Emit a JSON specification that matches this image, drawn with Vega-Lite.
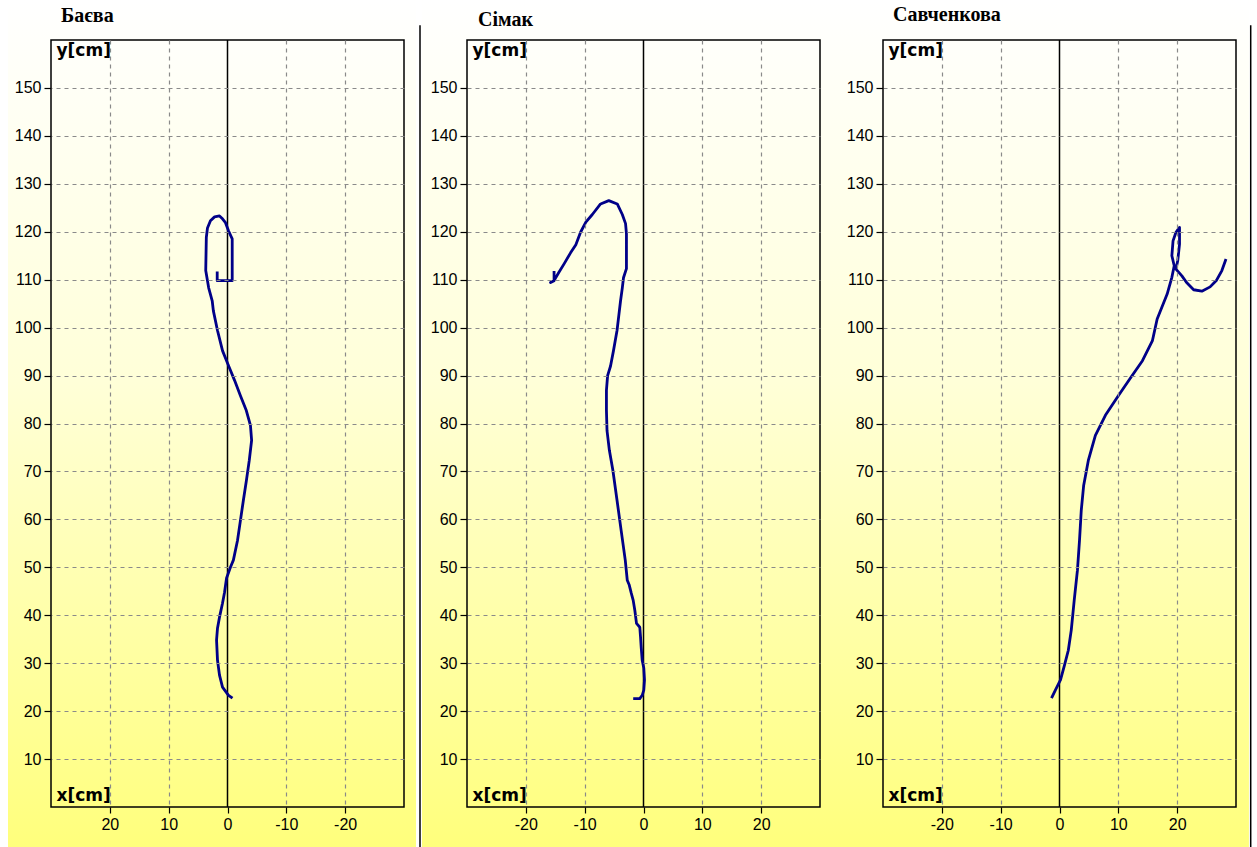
{
  "$schema": "https://vega.github.io/schema/vega-lite/v6.json",
  "background": "white",
  "padding": {"left": 7, "top": 0, "right": 0, "bottom": 0},
  "autosize": {"type": "pad"},
  "bounds": "flush",
  "spacing": 63,
  "datasets": {
    "baeva": [
      {"i": 1, "x": -0.85, "y": 22.7}, {"i": 2, "x": -0.17, "y": 23.3}, {"i": 3, "x": 0.85, "y": 25.0},
      {"i": 4, "x": 1.36, "y": 27.5}, {"i": 5, "x": 1.7, "y": 30.6}, {"i": 6, "x": 1.86, "y": 34.8},
      {"i": 7, "x": 1.7, "y": 37.3}, {"i": 8, "x": 1.36, "y": 39.6}, {"i": 9, "x": 0.85, "y": 42.5},
      {"i": 10, "x": 0.5, "y": 44.8}, {"i": 11, "x": 0.17, "y": 47.7}, {"i": 12, "x": -0.5, "y": 50.0},
      {"i": 13, "x": -1.0, "y": 51.5}, {"i": 14, "x": -1.7, "y": 55.6}, {"i": 15, "x": -2.2, "y": 59.8},
      {"i": 16, "x": -2.7, "y": 64.0}, {"i": 17, "x": -3.2, "y": 68.0}, {"i": 18, "x": -3.7, "y": 72.3},
      {"i": 19, "x": -4.1, "y": 76.5}, {"i": 20, "x": -3.9, "y": 79.6}, {"i": 21, "x": -3.2, "y": 82.7},
      {"i": 22, "x": -2.2, "y": 85.8}, {"i": 23, "x": -1.2, "y": 89.0}, {"i": 24, "x": -0.2, "y": 92.0},
      {"i": 25, "x": 0.85, "y": 95.2}, {"i": 26, "x": 1.7, "y": 99.4}, {"i": 27, "x": 2.4, "y": 103.5},
      {"i": 28, "x": 2.6, "y": 105.6}, {"i": 29, "x": 3.2, "y": 108.3}, {"i": 30, "x": 3.7, "y": 111.9},
      {"i": 31, "x": 3.6, "y": 118.8}, {"i": 32, "x": 3.4, "y": 120.8}, {"i": 33, "x": 2.9, "y": 122.3},
      {"i": 34, "x": 2.2, "y": 123.1}, {"i": 35, "x": 1.36, "y": 123.3}, {"i": 36, "x": 0.85, "y": 122.7},
      {"i": 37, "x": 0.34, "y": 121.9}, {"i": 38, "x": -0.17, "y": 120.2}, {"i": 39, "x": -0.8, "y": 118.5},
      {"i": 40, "x": -0.8, "y": 114.0}, {"i": 41, "x": -0.8, "y": 109.8}, {"i": 42, "x": 0.34, "y": 109.8},
      {"i": 43, "x": 1.75, "y": 109.8}, {"i": 44, "x": 1.75, "y": 111.7}
    ],
    "simak": [
      {"i": 1, "x": -1.75, "y": 22.6}, {"i": 2, "x": -0.63, "y": 22.6}, {"i": 3, "x": -0.22, "y": 23.3},
      {"i": 4, "x": 0.05, "y": 24.4}, {"i": 5, "x": 0.17, "y": 26.5}, {"i": 6, "x": 0.05, "y": 29.0},
      {"i": 7, "x": -0.22, "y": 30.6}, {"i": 8, "x": -0.39, "y": 33.3}, {"i": 9, "x": -0.5, "y": 35.4},
      {"i": 10, "x": -0.63, "y": 37.5}, {"i": 11, "x": -1.19, "y": 38.3}, {"i": 12, "x": -1.47, "y": 41.0},
      {"i": 13, "x": -1.75, "y": 43.1}, {"i": 14, "x": -2.08, "y": 44.6}, {"i": 15, "x": -2.42, "y": 46.3},
      {"i": 16, "x": -2.76, "y": 47.3}, {"i": 17, "x": -3.1, "y": 51.5}, {"i": 18, "x": -3.8, "y": 57.7},
      {"i": 19, "x": -4.5, "y": 64.0}, {"i": 20, "x": -5.2, "y": 70.2}, {"i": 21, "x": -5.8, "y": 74.4},
      {"i": 22, "x": -6.2, "y": 78.5}, {"i": 23, "x": -6.3, "y": 82.7}, {"i": 24, "x": -6.3, "y": 86.9},
      {"i": 25, "x": -6.1, "y": 90.0}, {"i": 26, "x": -5.6, "y": 92.0}, {"i": 27, "x": -5.1, "y": 95.2},
      {"i": 28, "x": -4.5, "y": 99.4}, {"i": 29, "x": -4.2, "y": 102.5}, {"i": 30, "x": -3.9, "y": 105.6},
      {"i": 31, "x": -3.6, "y": 108.3}, {"i": 32, "x": -3.4, "y": 110.4}, {"i": 33, "x": -2.9, "y": 112.3},
      {"i": 34, "x": -2.9, "y": 116.7}, {"i": 35, "x": -2.9, "y": 119.6}, {"i": 36, "x": -3.05, "y": 121.7},
      {"i": 37, "x": -3.6, "y": 123.6}, {"i": 38, "x": -4.46, "y": 125.8}, {"i": 39, "x": -5.9, "y": 126.5},
      {"i": 40, "x": -7.3, "y": 125.8}, {"i": 41, "x": -8.7, "y": 123.6}, {"i": 42, "x": -9.8, "y": 122.0},
      {"i": 43, "x": -10.7, "y": 119.9}, {"i": 44, "x": -11.5, "y": 117.3}, {"i": 45, "x": -12.4, "y": 115.6},
      {"i": 46, "x": -13.5, "y": 113.3}, {"i": 47, "x": -14.4, "y": 111.5}, {"i": 48, "x": -15.2, "y": 109.8},
      {"i": 49, "x": -15.8, "y": 109.4}, {"i": 50, "x": -15.2, "y": 109.8}, {"i": 51, "x": -15.2, "y": 111.8}
    ],
    "savchenkova": [
      {"i": 1, "x": -1.36, "y": 22.7}, {"i": 2, "x": -0.7, "y": 24.4}, {"i": 3, "x": 0.17, "y": 26.5},
      {"i": 4, "x": 0.85, "y": 29.6}, {"i": 5, "x": 1.5, "y": 32.7}, {"i": 6, "x": 2.0, "y": 36.9},
      {"i": 7, "x": 2.5, "y": 43.1}, {"i": 8, "x": 3.05, "y": 49.4}, {"i": 9, "x": 3.4, "y": 55.6},
      {"i": 10, "x": 3.7, "y": 61.9}, {"i": 11, "x": 4.1, "y": 67.0}, {"i": 12, "x": 4.9, "y": 72.3},
      {"i": 13, "x": 6.1, "y": 77.5}, {"i": 14, "x": 7.8, "y": 81.7}, {"i": 15, "x": 10.0, "y": 85.8},
      {"i": 16, "x": 12.0, "y": 89.4}, {"i": 17, "x": 14.1, "y": 93.1}, {"i": 18, "x": 15.8, "y": 97.3},
      {"i": 19, "x": 16.6, "y": 101.8}, {"i": 20, "x": 18.3, "y": 107.0}, {"i": 21, "x": 19.1, "y": 110.5},
      {"i": 22, "x": 19.5, "y": 112.9}, {"i": 23, "x": 19.1, "y": 115.0}, {"i": 24, "x": 19.3, "y": 118.1},
      {"i": 25, "x": 19.8, "y": 119.9}, {"i": 26, "x": 20.4, "y": 120.9}, {"i": 27, "x": 20.4, "y": 117.4},
      {"i": 28, "x": 20.1, "y": 114.0}, {"i": 29, "x": 19.8, "y": 112.2}, {"i": 30, "x": 20.8, "y": 110.8},
      {"i": 31, "x": 21.6, "y": 109.4}, {"i": 32, "x": 22.8, "y": 107.9}, {"i": 33, "x": 24.2, "y": 107.6},
      {"i": 34, "x": 25.6, "y": 108.5}, {"i": 35, "x": 26.7, "y": 109.9}, {"i": 36, "x": 27.6, "y": 111.9},
      {"i": 37, "x": 28.3, "y": 114.3}
    ]
  },
  "config": {
    "view": {"stroke": null},
    "axis": {
      "grid": true,
      "gridColor": "#8a8a8a",
      "gridDash": [4, 4],
      "gridWidth": 1.2,
      "domain": false,
      "tickColor": "black",
      "tickWidth": 1.2,
      "labelFont": "Liberation Sans",
      "labelFontSize": 16,
      "labelColor": "black",
      "titleFont": "DejaVu Sans",
      "titleFontWeight": "bold",
      "titleFontSize": 17,
      "titleColor": "black"
    }
  },
  "hconcat": [
    {
      "width": 353,
      "height": 767,
      "layer": [
        {
          "data": {"values": [{}]},
          "mark": {"type": "rect", "clip": false, "color": {"gradient": "linear", "x1": 0, "y1": 0, "x2": 0, "y2": 1, "stops": [{"offset": 0, "color": "#ffffff"}, {"offset": 0.45, "color": "#ffffd8"}, {"offset": 1, "color": "#ffff7c"}]}},
          "encoding": {
            "x": {"datum": 37.31, "type": "quantitative", "scale": {"domain": [-30, 30], "reverse": true, "nice": false, "zero": false},
              "axis": {"zindex": 1, "values": [-20, -10, 0, 10, 20], "title": "x[cm]", "titleX": 5, "titleY": -3, "titleAlign": "left", "titleBaseline": "bottom", "labelExpr": "'' + datum.value", "tickSize": 6, "labelPadding": 3, "gridOpacity": {"condition": {"test": "datum.value === 0", "value": 0}, "value": 1}}},
            "x2": {"datum": -32.04},
            "y": {"datum": 168.34, "type": "quantitative", "scale": {"domain": [0, 160], "nice": false, "zero": false},
              "axis": {"zindex": 1, "values": [10, 20, 30, 40, 50, 60, 70, 80, 90, 100, 110, 120, 130, 140, 150], "title": "y[cm]", "titleAngle": 0, "titleX": 5, "titleY": 2, "titleAlign": "left", "titleBaseline": "top", "tickSize": 7, "labelPadding": 3}},
            "y2": {"datum": -8.34}
          }
        },
        {
          "data": {"values": [{}]},
          "mark": {"type": "rect", "fillOpacity": 0, "stroke": "black", "strokeWidth": 1.5},
          "encoding": {
            "x": {"datum": -30, "type": "quantitative", "scale": {"domain": [-30, 30], "reverse": true, "nice": false, "zero": false}},
            "x2": {"datum": 30},
            "y": {"datum": 0, "type": "quantitative", "scale": {"domain": [0, 160], "nice": false, "zero": false}},
            "y2": {"datum": 160}
          }
        },
        {
          "data": {"values": [{}]},
          "mark": {"type": "rule", "color": "black", "strokeWidth": 1.5},
          "encoding": {
            "x": {"datum": 0, "type": "quantitative", "scale": {"domain": [-30, 30], "reverse": true, "nice": false, "zero": false}}
          }
        },
        {
          "data": {"values": [{}]},
          "mark": {"type": "rule", "color": "black", "strokeWidth": 1.5, "clip": false},
          "encoding": {
            "x": {"datum": -32.72, "type": "quantitative", "scale": {"domain": [-30, 30], "reverse": true, "nice": false, "zero": false}},
            "y": {"datum": 163.1, "type": "quantitative", "scale": {"domain": [0, 160], "nice": false, "zero": false}},
            "y2": {"datum": -8.34}
          }
        },
        {
          "data": {"values": [{}]},
          "mark": {"type": "text", "text": "Баєва", "font": "Liberation Serif", "fontWeight": "bold", "fontSize": 20, "align": "left", "baseline": "alphabetic", "color": "black", "clip": false},
          "encoding": {
            "x": {"datum": 28.3, "type": "quantitative", "scale": {"domain": [-30, 30], "reverse": true, "nice": false, "zero": false}},
            "y": {"datum": 163.75, "type": "quantitative", "scale": {"domain": [0, 160], "nice": false, "zero": false}}
          }
        },
        {
          "data": {"name": "baeva"},
          "mark": {"type": "line", "color": "#000088", "strokeWidth": 2.8, "strokeJoin": "round"},
          "encoding": {
            "x": {"field": "x", "type": "quantitative", "scale": {"domain": [-30, 30], "reverse": true, "nice": false, "zero": false}},
            "y": {"field": "y", "type": "quantitative", "scale": {"domain": [0, 160], "nice": false, "zero": false}},
            "order": {"field": "i", "type": "quantitative"}
          }
        }
      ]
    },
    {
      "width": 353,
      "height": 767,
      "layer": [
        {
          "data": {"values": [{}]},
          "mark": {"type": "rect", "clip": false, "color": {"gradient": "linear", "x1": 0, "y1": 0, "x2": 0, "y2": 1, "stops": [{"offset": 0, "color": "#ffffff"}, {"offset": 0.45, "color": "#ffffd8"}, {"offset": 1, "color": "#ffff7c"}]}},
          "encoding": {
            "x": {"datum": -37.65, "type": "quantitative", "scale": {"domain": [-30, 30], "nice": false, "zero": false},
              "axis": {"zindex": 1, "values": [-20, -10, 0, 10, 20], "title": "x[cm]", "titleX": 5, "titleY": -3, "titleAlign": "left", "titleBaseline": "bottom", "labelExpr": "'' + datum.value", "tickSize": 6, "labelPadding": 3, "gridOpacity": {"condition": {"test": "datum.value === 0", "value": 0}, "value": 1}}},
            "x2": {"datum": 33.57},
            "y": {"datum": 168.34, "type": "quantitative", "scale": {"domain": [0, 160], "nice": false, "zero": false},
              "axis": {"zindex": 1, "values": [10, 20, 30, 40, 50, 60, 70, 80, 90, 100, 110, 120, 130, 140, 150], "title": "y[cm]", "titleAngle": 0, "titleX": 5, "titleY": 2, "titleAlign": "left", "titleBaseline": "top", "tickSize": 7, "labelPadding": 3}},
            "y2": {"datum": -8.34}
          }
        },
        {
          "data": {"values": [{}]},
          "mark": {"type": "rect", "fillOpacity": 0, "stroke": "black", "strokeWidth": 1.5},
          "encoding": {
            "x": {"datum": -30, "type": "quantitative", "scale": {"domain": [-30, 30], "nice": false, "zero": false}},
            "x2": {"datum": 30},
            "y": {"datum": 0, "type": "quantitative", "scale": {"domain": [0, 160], "nice": false, "zero": false}},
            "y2": {"datum": 160}
          }
        },
        {
          "data": {"values": [{}]},
          "mark": {"type": "rule", "color": "black", "strokeWidth": 1.5},
          "encoding": {
            "x": {"datum": 0, "type": "quantitative", "scale": {"domain": [-30, 30], "nice": false, "zero": false}}
          }
        },
        {
          "data": {"values": [{}]},
          "mark": {"type": "text", "text": "Сімак", "font": "Liberation Serif", "fontWeight": "bold", "fontSize": 20, "align": "left", "baseline": "alphabetic", "color": "black", "clip": false},
          "encoding": {
            "x": {"datum": -28.13, "type": "quantitative", "scale": {"domain": [-30, 30], "nice": false, "zero": false}},
            "y": {"datum": 162.9, "type": "quantitative", "scale": {"domain": [0, 160], "nice": false, "zero": false}}
          }
        },
        {
          "data": {"name": "simak"},
          "mark": {"type": "line", "color": "#000088", "strokeWidth": 2.8, "strokeJoin": "round"},
          "encoding": {
            "x": {"field": "x", "type": "quantitative", "scale": {"domain": [-30, 30], "nice": false, "zero": false}},
            "y": {"field": "y", "type": "quantitative", "scale": {"domain": [0, 160], "nice": false, "zero": false}},
            "order": {"field": "i", "type": "quantitative"}
          }
        }
      ]
    },
    {
      "width": 353,
      "height": 767,
      "layer": [
        {
          "data": {"values": [{}]},
          "mark": {"type": "rect", "clip": false, "color": {"gradient": "linear", "x1": 0, "y1": 0, "x2": 0, "y2": 1, "stops": [{"offset": 0, "color": "#ffffff"}, {"offset": 0.45, "color": "#ffffd8"}, {"offset": 1, "color": "#ffff7c"}]}},
          "encoding": {
            "x": {"datum": -37.31, "type": "quantitative", "scale": {"domain": [-30, 30], "nice": false, "zero": false},
              "axis": {"zindex": 1, "values": [-20, -10, 0, 10, 20], "title": "x[cm]", "titleX": 5, "titleY": -3, "titleAlign": "left", "titleBaseline": "bottom", "labelExpr": "'' + datum.value", "tickSize": 6, "labelPadding": 3, "gridOpacity": {"condition": {"test": "datum.value === 0", "value": 0}, "value": 1}}},
            "x2": {"datum": 32.2},
            "y": {"datum": 168.34, "type": "quantitative", "scale": {"domain": [0, 160], "nice": false, "zero": false},
              "axis": {"zindex": 1, "values": [10, 20, 30, 40, 50, 60, 70, 80, 90, 100, 110, 120, 130, 140, 150], "title": "y[cm]", "titleAngle": 0, "titleX": 5, "titleY": 2, "titleAlign": "left", "titleBaseline": "top", "tickSize": 7, "labelPadding": 3}},
            "y2": {"datum": -8.34}
          }
        },
        {
          "data": {"values": [{}]},
          "mark": {"type": "rect", "fillOpacity": 0, "stroke": "black", "strokeWidth": 1.5},
          "encoding": {
            "x": {"datum": -30, "type": "quantitative", "scale": {"domain": [-30, 30], "nice": false, "zero": false}},
            "x2": {"datum": 30},
            "y": {"datum": 0, "type": "quantitative", "scale": {"domain": [0, 160], "nice": false, "zero": false}},
            "y2": {"datum": 160}
          }
        },
        {
          "data": {"values": [{}]},
          "mark": {"type": "rule", "color": "black", "strokeWidth": 1.5},
          "encoding": {
            "x": {"datum": 0, "type": "quantitative", "scale": {"domain": [-30, 30], "nice": false, "zero": false}}
          }
        },
        {
          "data": {"values": [{}]},
          "mark": {"type": "rule", "color": "black", "strokeWidth": 1.5, "clip": false},
          "encoding": {
            "x": {"datum": 32.5, "type": "quantitative", "scale": {"domain": [-30, 30], "nice": false, "zero": false}},
            "y": {"datum": 163.1, "type": "quantitative", "scale": {"domain": [0, 160], "nice": false, "zero": false}},
            "y2": {"datum": -8.34}
          }
        },
        {
          "data": {"values": [{}]},
          "mark": {"type": "text", "text": "Савченкова", "font": "Liberation Serif", "fontWeight": "bold", "fontSize": 20, "align": "left", "baseline": "alphabetic", "color": "black", "clip": false},
          "encoding": {
            "x": {"datum": -28.3, "type": "quantitative", "scale": {"domain": [-30, 30], "nice": false, "zero": false}},
            "y": {"datum": 163.96, "type": "quantitative", "scale": {"domain": [0, 160], "nice": false, "zero": false}}
          }
        },
        {
          "data": {"name": "savchenkova"},
          "mark": {"type": "line", "color": "#000088", "strokeWidth": 2.8, "strokeJoin": "round"},
          "encoding": {
            "x": {"field": "x", "type": "quantitative", "scale": {"domain": [-30, 30], "nice": false, "zero": false}},
            "y": {"field": "y", "type": "quantitative", "scale": {"domain": [0, 160], "nice": false, "zero": false}},
            "order": {"field": "i", "type": "quantitative"}
          }
        }
      ]
    }
  ]
}
